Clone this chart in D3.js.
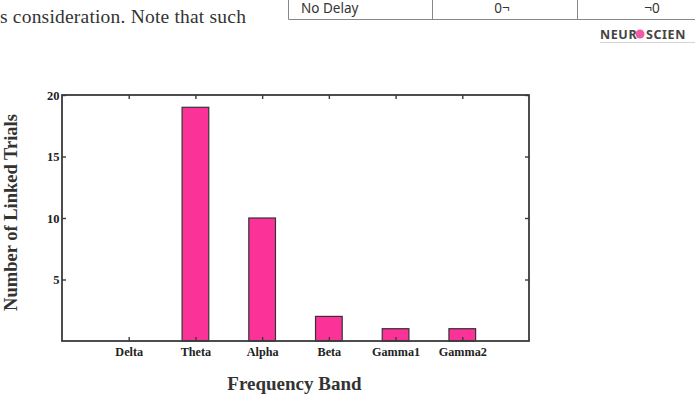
<!DOCTYPE html>
<html>
<head>
<meta charset="utf-8">
<script src="https://cdn.jsdelivr.net/npm/d3@7"></script>
<style>
  body { margin: 0; background: #fff; }
  svg { display: block; }
</style>
</head>
<body>
<svg id="chart" width="695" height="398"></svg>
<script>
// data
const bands = ["Delta", "Theta", "Alpha", "Beta", "Gamma1", "Gamma2"];
const linkedTrials = [0, 19, 10, 2, 1, 1];
const yTicks = [5, 10, 15, 20];

const svg = d3.select("#chart");
const margin = { top: 95, right: 166, bottom: 57, left: 62 };
const width = 695 - margin.left - margin.right;
const height = 398 - margin.top - margin.bottom;
const serif = "'Liberation Serif', 'Times New Roman', serif";
const axisColor = "#3a3a3a";

// page fragment above the figure
svg.append("text")
  .attr("x", 0).attr("y", 23)
  .attr("font-family", serif).attr("font-size", 19.5)
  .attr("letter-spacing", 0.2)
  .attr("fill", "#333")
  .text("s consideration. Note that such");

const table = svg.append("g").attr("stroke", "#888").attr("stroke-width", 1);
table.append("line").attr("x1", 288.5).attr("x2", 695).attr("y1", 19.5).attr("y2", 19.5);
[288.5, 432.5, 577.5].forEach(x =>
  table.append("line").attr("x1", x).attr("x2", x).attr("y1", 0).attr("y2", 19.5));
const tcell = svg.append("g")
  .attr("font-family", "'Noto Sans', sans-serif").attr("font-size", 13.5).attr("fill", "#333");
tcell.append("text").attr("x", 301).attr("y", 12.5).text("No Delay");
tcell.append("text").attr("x", 502).attr("y", 12.5).attr("text-anchor", "middle").text("0¬");
tcell.append("text").attr("x", 652).attr("y", 12.5).attr("text-anchor", "middle").text("¬0");

const logo = svg.append("g").attr("font-family", "'Noto Sans', sans-serif")
  .attr("font-weight", "bold").attr("font-size", 12.5).attr("fill", "#444")
  .attr("letter-spacing", 0.6);
logo.append("text").attr("x", 600).attr("y", 38.5).text("NEUR");
logo.append("circle").attr("cx", 640).attr("cy", 34).attr("r", 4.5).attr("fill", "#f25ca7");
logo.append("text").attr("x", 646).attr("y", 38.5).text("SCIEN");
svg.append("line").attr("x1", 600).attr("x2", 695).attr("y1", 42.5).attr("y2", 42.5)
  .attr("stroke", "#d5d5d5");

// chart
const g = svg.append("g")
  .attr("transform", "translate(" + margin.left + "," + margin.top + ")");

const xScale = d3.scaleLinear()
  .domain([0, bands.length + 1])
  .range([0, width]);
const yScale = d3.scaleLinear()
  .domain([0, 20])
  .range([height, 0]);
const barWidth = (xScale(1) - xScale(0)) * 0.4;

g.selectAll("rect.bar")
  .data(linkedTrials)
  .enter().append("rect")
  .attr("class", "bar")
  .attr("x", (d, i) => xScale(i + 1) - barWidth / 2)
  .attr("y", d => yScale(d))
  .attr("width", barWidth)
  .attr("height", d => yScale(0) - yScale(d))
  .attr("fill", "#fb3399")
  .attr("stroke", "#333")
  .attr("stroke-width", 1.2);

const catTicks = bands.map((b, i) => i + 1);

function styleAxis(axis) {
  axis.selectAll(".domain").remove();
  axis.selectAll(".tick line").attr("stroke", axisColor).attr("stroke-width", 1.4);
  axis.selectAll(".tick text")
    .attr("font-family", serif).attr("font-weight", "bold").attr("fill", "#222");
}

const xAxis = g.append("g")
  .attr("transform", "translate(0," + height + ")")
  .call(d3.axisBottom(xScale).tickValues(catTicks)
    .tickSizeInner(-4).tickSizeOuter(0).tickPadding(6)
    .tickFormat(d => bands[d - 1]));
styleAxis(xAxis);
xAxis.selectAll(".tick text").attr("font-size", 12.2);

const xTop = g.append("g")
  .call(d3.axisTop(xScale).tickValues(catTicks).tickSizeInner(-4).tickSizeOuter(0).tickFormat(""));
styleAxis(xTop);

const yAxis = g.append("g")
  .call(d3.axisLeft(yScale).tickValues(yTicks)
    .tickSizeInner(-4).tickSizeOuter(0).tickPadding(2.5));
styleAxis(yAxis);
yAxis.selectAll(".tick text").attr("font-size", 12.5);

const yRight = g.append("g")
  .attr("transform", "translate(" + width + ",0)")
  .call(d3.axisRight(yScale).tickValues(yTicks).tickSizeInner(-4).tickSizeOuter(0).tickFormat(""));
styleAxis(yRight);

// frame
g.append("rect")
  .attr("x", 0).attr("y", 0)
  .attr("width", width).attr("height", height)
  .attr("fill", "none")
  .attr("stroke", axisColor)
  .attr("stroke-width", 1.8);

// axis titles
g.append("text")
  .attr("x", width / 2 - 1)
  .attr("y", height + 49)
  .attr("text-anchor", "middle")
  .attr("font-family", serif).attr("font-weight", "bold").attr("font-size", 19)
  .attr("fill", "#333")
  .text("Frequency Band");

g.append("text")
  .attr("transform", "translate(" + (-45.5) + "," + (height / 2 - 5.5) + ") rotate(-90)")
  .attr("text-anchor", "middle")
  .attr("font-family", serif).attr("font-weight", "bold").attr("font-size", 18.5)
  .attr("fill", "#333")
  .text("Number of Linked Trials");
</script>
</body>
</html>
